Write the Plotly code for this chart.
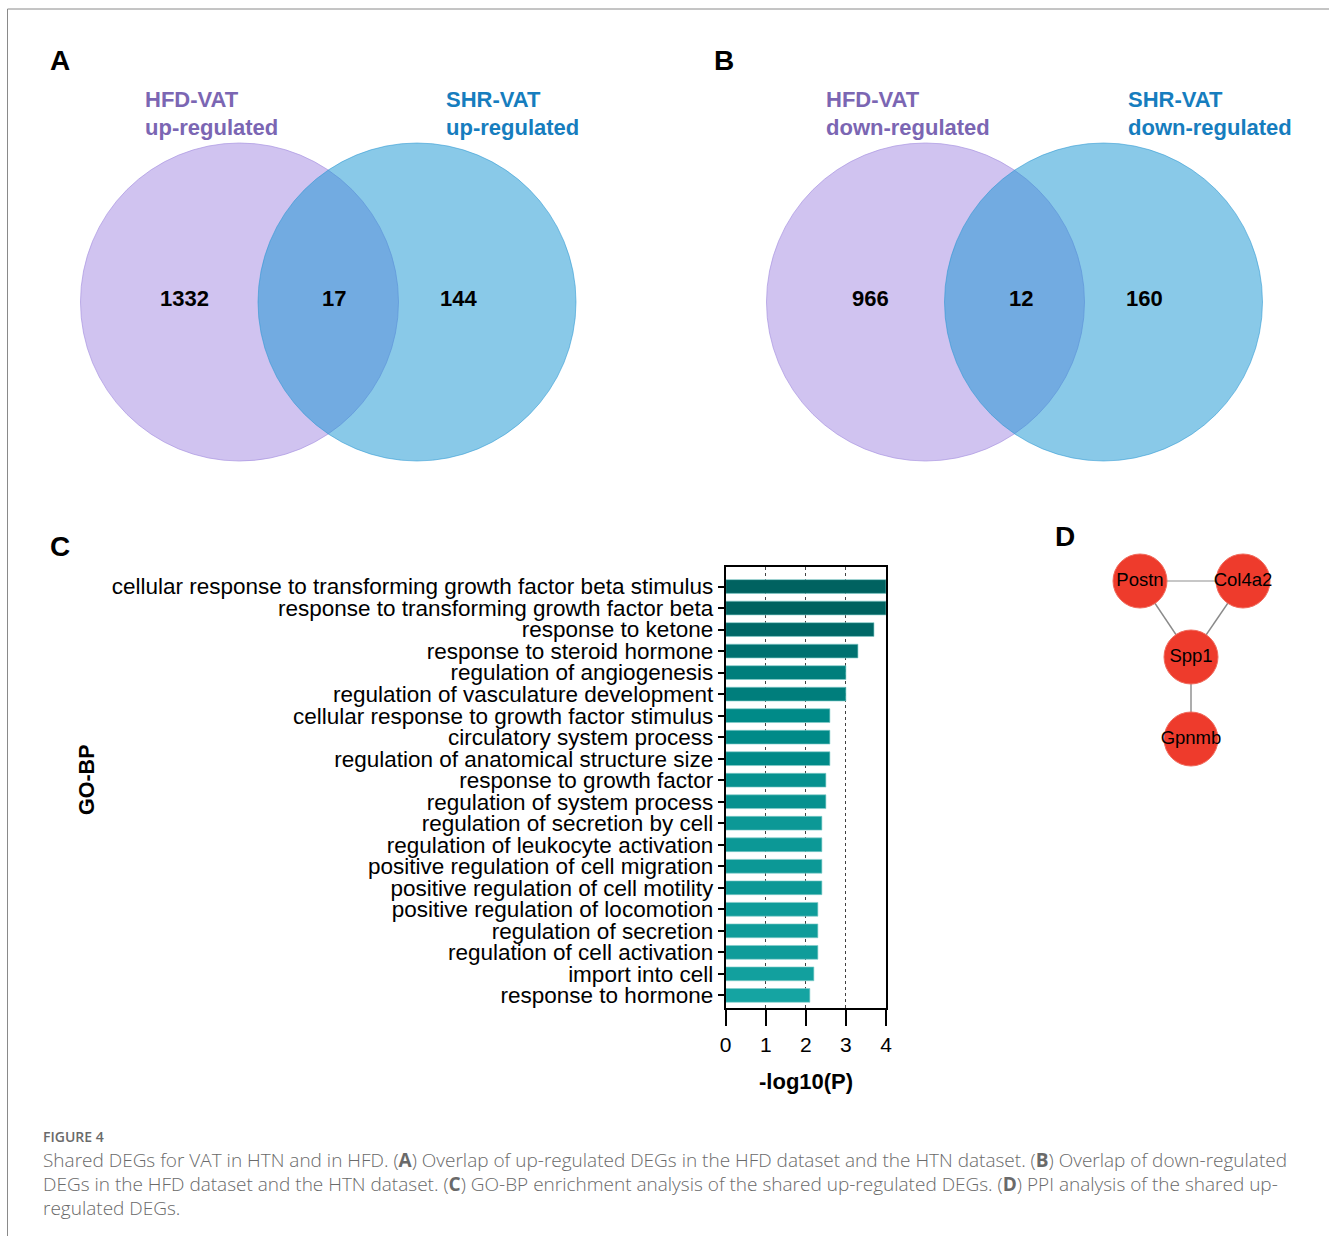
import plotly.graph_objects as go

W, H = 1329, 1236

# ---- GO-BP enrichment (panel C) ----
go_terms = [
    "cellular response to transforming growth factor beta stimulus",
    "response to transforming growth factor beta",
    "response to ketone",
    "response to steroid hormone",
    "regulation of angiogenesis",
    "regulation of vasculature development",
    "cellular response to growth factor stimulus",
    "circulatory system process",
    "regulation of anatomical structure size",
    "response to growth factor",
    "regulation of system process",
    "regulation of secretion by cell",
    "regulation of leukocyte activation",
    "positive regulation of cell migration",
    "positive regulation of cell motility",
    "positive regulation of locomotion",
    "regulation of secretion",
    "regulation of cell activation",
    "import into cell",
    "response to hormone",
]
neg_log10_p = [4.0, 4.0, 3.7, 3.3, 3.0, 3.0, 2.6, 2.6, 2.6, 2.5,
               2.5, 2.4, 2.4, 2.4, 2.4, 2.3, 2.3, 2.3, 2.2, 2.1]
x_ticks = [0, 1, 2, 3, 4]

# ---- Venn counts (panels A and B) ----
venn_up = {"left": 1332, "shared": 17, "right": 144}
venn_down = {"left": 966, "shared": 12, "right": 160}

# ---- PPI network (panel D) ----
ppi_nodes = ["Postn", "Col4a2", "Spp1", "Gpnmb"]
ppi_edges = [("Postn", "Col4a2"), ("Postn", "Spp1"), ("Col4a2", "Spp1"), ("Spp1", "Gpnmb")]

# node layout (page pixels)
node_pos = {"Postn": (1140, 581), "Col4a2": (1243, 581), "Spp1": (1191, 657), "Gpnmb": (1191, 739)}

ARIAL = "Arial, Liberation Sans, Helvetica, sans-serif"
PURPLE_TXT = "#7b66b3"
BLUE_TXT = "#167dbe"

fig = go.Figure()

# bar chart
fig.add_trace(go.Bar(
    x=neg_log10_p, y=go_terms, orientation="h",
    width=0.64,
    marker=dict(
        color=neg_log10_p, cmin=2.1, cmax=4.0,
        colorscale=[[0.0, "#15a4a2"], [0.16, "#0c9896"], [0.263, "#008a88"],
                    [0.474, "#007e7c"], [0.63, "#007170"], [0.84, "#006867"], [1.0, "#006260"]],
        line=dict(color="rgba(130,205,203,0.8)", width=0.8),
    ),
    xaxis="x", yaxis="y", showlegend=False, hoverinfo="x+y",
))

# network edges
for a, b in ppi_edges:
    (xa, ya), (xb, yb) = node_pos[a], node_pos[b]
    fig.add_trace(go.Scatter(
        x=[xa, xb], y=[ya, yb], mode="lines",
        line=dict(color="#b5b5b5" if ya == yb else "#8a8a8a", width=1.4),
        xaxis="x2", yaxis="y2", showlegend=False, hoverinfo="skip",
    ))

# network nodes
fig.add_trace(go.Scatter(
    x=[node_pos[n][0] for n in ppi_nodes], y=[node_pos[n][1] for n in ppi_nodes],
    mode="markers+text", text=ppi_nodes, textposition="middle center",
    textfont=dict(family=ARIAL, size=18.5, color="#000000"),
    marker=dict(size=54, color="#ee3b2c", line=dict(color="#f06a5c", width=1)),
    xaxis="x2", yaxis="y2", showlegend=False, hoverinfo="text",
))

shapes = []
annotations = []

def px_ann(x, y, text, size, color="#000000", bold=False, xanchor="center", yanchor="middle",
           family=ARIAL, textangle=0, weight=None):
    font = dict(family=family, size=size, color=color)
    if weight is not None:
        font["weight"] = weight
    annotations.append(dict(
        x=x, y=y, xref="x2", yref="y2", text=f"<b>{text}</b>" if bold else text,
        showarrow=False, xanchor=xanchor, yanchor=yanchor, font=font, textangle=textangle,
    ))

def venn(cx_left, cx_right, cy, r, counts, left_lbl, right_lbl, lbl_left_x, lbl_right_x):
    shapes.append(dict(type="circle", xref="x2", yref="y2",
                       x0=cx_left - r, x1=cx_left + r, y0=cy - r, y1=cy + r,
                       fillcolor="#d0c3f0", line=dict(color="rgba(170,150,225,0.7)", width=1),
                       layer="below"))
    shapes.append(dict(type="circle", xref="x2", yref="y2",
                       x0=cx_right - r, x1=cx_right + r, y0=cy - r, y1=cy + r,
                       fillcolor="rgba(19,147,209,0.5)", line=dict(color="rgba(40,150,210,0.55)", width=1),
                       layer="below"))
    px_ann(lbl_left_x, 99, "HFD-VAT", 22, PURPLE_TXT, True, "left")
    px_ann(lbl_left_x, 127, left_lbl, 22, PURPLE_TXT, True, "left")
    px_ann(lbl_right_x, 99, "SHR-VAT", 22, BLUE_TXT, True, "left")
    px_ann(lbl_right_x, 127, right_lbl, 22, BLUE_TXT, True, "left")
    mid = (cx_left + cx_right) / 2
    px_ann(cx_left - 55, cy - 4, str(counts["left"]), 22, bold=True)
    px_ann(mid + 6, cy - 4, str(counts["shared"]), 22, bold=True)
    px_ann(cx_right + 41, cy - 4, str(counts["right"]), 22, bold=True)

venn(239.5, 417, 302, 159, venn_up, "up-regulated", "up-regulated", 143, 444)
venn(925.5, 1103.5, 302, 159, venn_down, "down-regulated", "down-regulated", 824, 1126)

# panel letters
for letter, (lx, ly) in {"A": (60, 60), "B": (724, 60), "C": (60, 546), "D": (1065, 536)}.items():
    px_ann(lx, ly, letter, 28, bold=True)

# axis titles for panel C
px_ann(87, 780, "GO-BP", 21.5, bold=True, textangle=-90)
px_ann(806, 1081, "-log10(P)", 22, bold=True)

# caption
CAP = "Open Sans, Lato, sans-serif"
CAP_COLOR = "#6a6a6a"
px_ann(41, 1136, "FIGURE 4", 14, CAP_COLOR, xanchor="left", family=CAP, weight=600)
caption_lines = [
    "Shared DEGs for VAT in HTN and in HFD. (<b>A</b>) Overlap of up-regulated DEGs in the HFD dataset and the HTN dataset. (<b>B</b>) Overlap of down-regulated",
    "DEGs in the HFD dataset and the HTN dataset. (<b>C</b>) GO-BP enrichment analysis of the shared up-regulated DEGs. (<b>D</b>) PPI analysis of the shared up-",
    "regulated DEGs.",
]
for i, line in enumerate(caption_lines):
    px_ann(41, 1160 + 24 * i, line, 19, CAP_COLOR, xanchor="left", family=CAP, weight=300)

# page border (left and top)
shapes.append(dict(type="line", xref="paper", yref="paper", x0=7.5 / W, x1=7.5 / W,
                   y0=0, y1=1 - 9 / H, line=dict(color="#8a8a8a", width=1)))
shapes.append(dict(type="line", xref="paper", yref="paper", x0=7.5 / W, x1=1,
                   y0=1 - 9 / H, y1=1 - 9 / H, line=dict(color="#8a8a8a", width=1)))

# bar chart plot area in page pixels
px_left, px_right, px_top, px_bottom = 725.7, 886, 566.5, 1008.3

fig.update_layout(
    width=W, height=H,
    margin=dict(l=0, r=0, t=0, b=0, pad=0, autoexpand=False),
    paper_bgcolor="white", plot_bgcolor="rgba(0,0,0,0)",
    shapes=shapes, annotations=annotations,
    xaxis=dict(
        domain=[px_left / W, px_right / W], anchor="y",
        range=[0, 4], tickvals=x_ticks, ticks="outside", ticklen=16, tickwidth=2, tickcolor="#000",
        showline=True, linewidth=2, linecolor="#000", mirror=True,
        showgrid=True, gridcolor="#404040", gridwidth=1, griddash="dot",
        zeroline=False, tickfont=dict(family=ARIAL, size=21, color="#000"),
        automargin=False,
    ),
    yaxis=dict(
        domain=[1 - px_bottom / H, 1 - px_top / H], anchor="x",
        type="category", categoryorder="array", categoryarray=go_terms,
        tickmode="array", tickvals=go_terms, ticktext=go_terms,
        range=[19.6, -0.93],
        ticks="outside", ticklen=6, tickwidth=2, tickcolor="#000",
        showline=True, linewidth=2, linecolor="#000", mirror=True,
        showgrid=False, zeroline=False,
        tickfont=dict(family=ARIAL, size=22.5, color="#000"),
        automargin=False,
    ),
    xaxis2=dict(domain=[0, 1], anchor="y2", range=[0, W], visible=False, fixedrange=True, automargin=False),
    yaxis2=dict(domain=[0, 1], anchor="x2", range=[H, 0], visible=False, fixedrange=True, automargin=False),
)

fig.write_html("out.html")
